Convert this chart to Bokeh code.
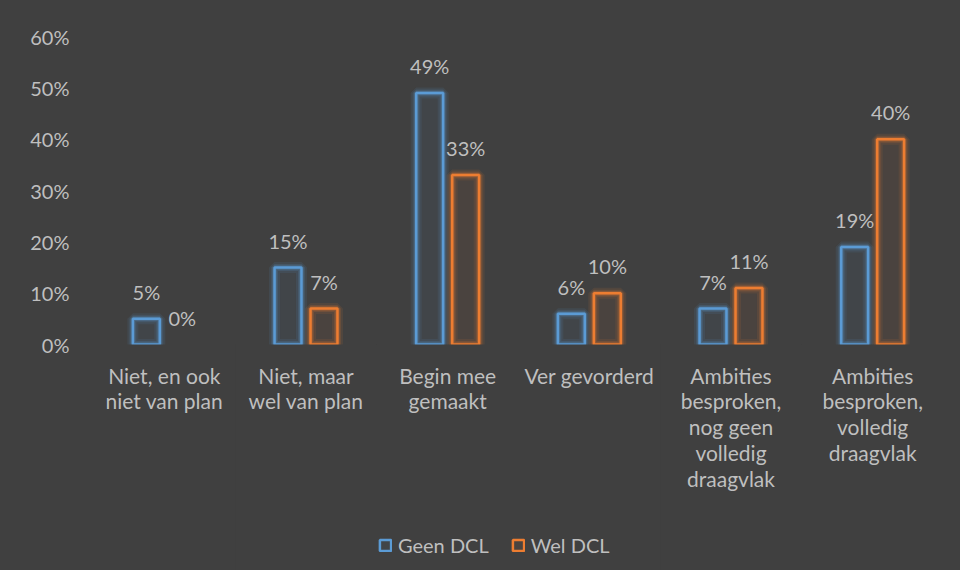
from bokeh.plotting import figure
from bokeh.models import (FactorRange, Range1d, NumeralTickFormatter, ColumnDataSource,
                          Legend, LegendItem, FixedTicker)
from bokeh.transform import dodge
from bokeh.core.properties import value
from bokeh.embed import file_html
from bokeh.resources import INLINE

categories = ["Niet, en ook\nniet van plan", "Niet, maar\nwel van plan", "Begin mee\ngemaakt",
              "Ver gevorderd", "Ambities\nbesproken,\nnog geen\nvolledig\ndraagvlak",
              "Ambities\nbesproken,\nvolledig\ndraagvlak"]
geen_dcl = [0.05, 0.15, 0.49, 0.06, 0.07, 0.19]
wel_dcl = [0.00, 0.07, 0.33, 0.10, 0.11, 0.40]
y_ticks = [0.0, 0.1, 0.2, 0.3, 0.4, 0.5, 0.6]
series_names = ["Geen DCL", "Wel DCL"]

BG = "#404040"
TXT = "#BFBFBF"
BLUE = "#5B9BD5"
ORANGE = "#ED7D31"
FONT = "Lato"
FS = "20px"

# plot frame: 0%..60% occupies the top 308 px of a 534 px tall frame
Y_MAX = 0.6
Y_MIN = Y_MAX - Y_MAX * 534 / 308

src = ColumnDataSource(dict(
    cats=categories,
    geen=geen_dcl,
    wel=wel_dcl,
    geen_lbl=[f"{round(v*100)}%" for v in geen_dcl],
    wel_lbl=[f"{round(v*100)}%" for v in wel_dcl],
    geen_a=[1.0 if v > 0 else 0.0 for v in geen_dcl],
    wel_a=[1.0 if v > 0 else 0.0 for v in wel_dcl],
))
for key in ["geen_a", "wel_a"]:
    for i, la in enumerate([0.10, 0.16, 0.25]):
        src.data[f"{key}_g{i}"] = [la * a for a in src.data[key]]

p = figure(frame_width=850, frame_height=534, x_range=FactorRange(*categories),
           y_range=Range1d(Y_MIN, Y_MAX),
           output_backend="svg", toolbar_location=None,
           background_fill_color=BG, border_fill_color=BG,
           min_border_left=93, min_border_right=17, min_border_top=36, min_border_bottom=0)
p.styles = {"background-color": BG}
p.outline_line_color = None
p.xgrid.visible = False
p.ygrid.visible = False
p.xaxis.visible = False

off = 0.127
bw = 0.19
renderers = []
for field, color, shift, alpha_col, lbl in [("geen", BLUE, -off, "geen_a", "geen_lbl"),
                                           ("wel", ORANGE, off, "wel_a", "wel_lbl")]:
    xd = dodge("cats", shift, range=p.x_range)
    for i, lw in enumerate([11, 7, 4.5]):
        p.vbar(x=xd, top=field, bottom=0, width=bw, source=src, fill_color=None,
               line_color=color, line_width=lw, line_alpha=f"{alpha_col}_g{i}")
    r = p.vbar(x=xd, top=field, bottom=0, width=bw, source=src, fill_color=color, fill_alpha=0.06,
               line_color=color, line_width=2.5, line_alpha=alpha_col)
    renderers.append(r)
    p.text(x=xd, y=field, text=lbl, source=src, text_align="center", text_baseline="bottom",
           y_offset=-15, text_color=TXT, text_font=value(FONT), text_font_size=FS)

# cover glow below the baseline (plot area edge)
p.vbar(x="cats", top=0, bottom=Y_MIN, width=1.0, source=src, fill_color=BG, line_color=None)

# category labels below the baseline
p.text(x="cats", y=0, text="cats", source=src, text_align="center", text_baseline="top",
       y_offset=18, text_color=TXT, text_font=value(FONT), text_font_size="21px",
       text_line_height=1.03)

yax = p.yaxis[0]
yax.ticker = FixedTicker(ticks=y_ticks)
yax.formatter = NumeralTickFormatter(format="0%")
yax.axis_line_color = None
yax.major_tick_line_color = None
yax.minor_tick_line_color = None
yax.major_tick_out = 0
yax.major_label_standoff = 24
yax.major_label_text_color = TXT
yax.major_label_text_font = FONT
yax.major_label_text_font_size = FS

legend = Legend(items=[LegendItem(label=series_names[0], renderers=[renderers[0]], index=1),
                       LegendItem(label=series_names[1], renderers=[renderers[1]], index=1)],
                orientation="horizontal", location=(285, 13),
                background_fill_alpha=0, border_line_alpha=0,
                label_text_color=TXT, label_text_font=FONT, label_text_font_size=FS,
                glyph_width=14, glyph_height=14, label_standoff=6, spacing=22,
                margin=0, padding=0)
p.add_layout(legend, "center")

open("out.html", "w").write(file_html(p, INLINE))
